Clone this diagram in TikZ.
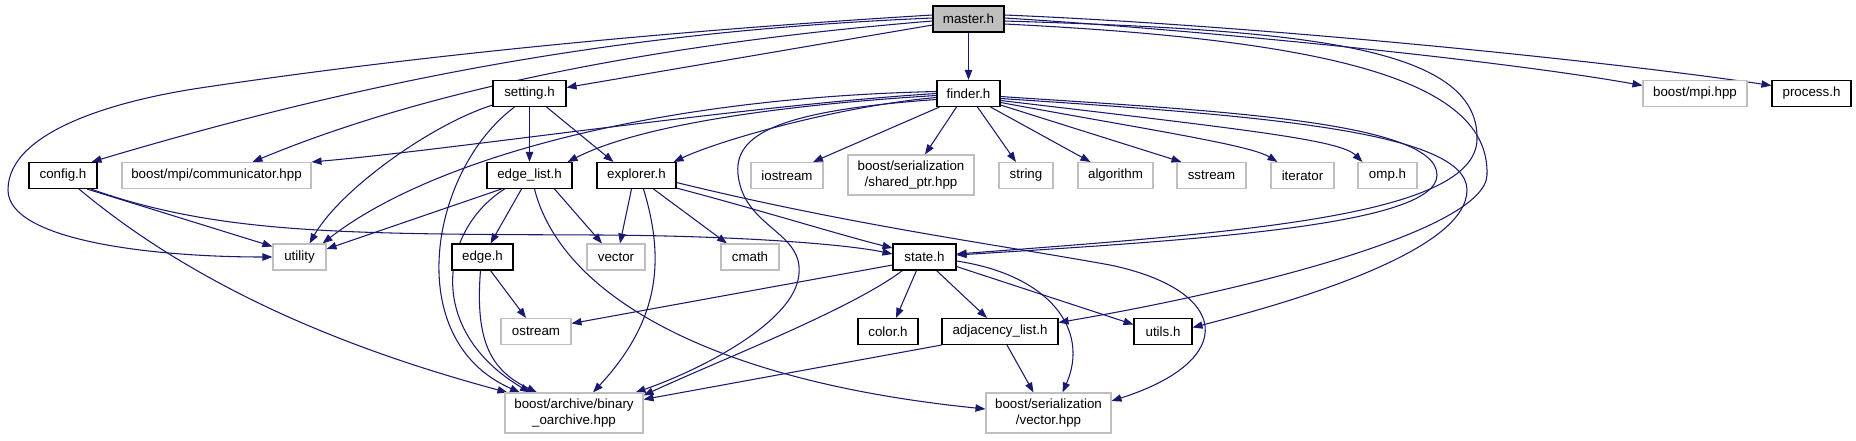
\documentclass[tikz,border=0pt]{standalone}
\usepackage{fontspec}
\setmainfont{Liberation Sans}
\usetikzlibrary{arrows.meta,calc}
\definecolor{edgec}{HTML}{191970}
\definecolor{graybd}{HTML}{BFBFBF}
\definecolor{mastfill}{HTML}{BFBFBF}
\pgfdeclarelayer{bg}
\pgfsetlayers{bg,main}
\begin{document}
\begin{tikzpicture}[x=0.75pt,y=-0.75pt,
  base/.style={rectangle,inner sep=0pt,font=\fontsize{10}{11.5}\selectfont,align=center,line width=0.8pt,minimum height=19.5pt,fill=white},
  proj/.style={base,draw=black},
  ext/.style={base,draw=graybd},
  tall/.style={minimum height=30pt},
  dep/.style={draw=edgec,line width=0.8pt,-{Triangle[length=7.5pt,width=5.5pt]}}
]
\useasboundingbox (0,0) rectangle (1856,440);

% nodes
\node[proj,fill=mastfill,minimum width=53.25pt] (master) at (968.5,19) {master.h};
\node[proj,minimum width=54.75pt] (setting) at (529.5,93.5) {setting.h};
\node[proj,minimum width=47.25pt] (finder) at (968.5,93.5) {finder.h};
\node[ext,minimum width=78pt] (boostmpi) at (1695,93.5) {boost/mpi.hpp};
\node[proj,minimum width=59.25pt] (process) at (1811.5,93.5) {process.h};
\node[proj,minimum width=51pt] (config) at (63,175.5) {config.h};
\node[ext,minimum width=141.75pt] (comm) at (216.5,175.5) {boost/mpi/communicator.hpp};
\node[proj,minimum width=63.75pt] (edgelist) at (529.5,175.5) {edge\_list.h};
\node[proj,minimum width=59.25pt] (explorer) at (636.5,175.5) {explorer.h};
\node[ext,minimum width=54pt] (iostream) at (787,175.5) {iostream};
\node[ext,tall,minimum width=94.5pt] (sharedptr) at (911,175) {boost/serialization\\/shared\_ptr.hpp};
\node[ext,minimum width=40.5pt] (string) at (1026,175.5) {string};
\node[ext,minimum width=56.25pt] (algorithm) at (1115.5,175.5) {algorithm};
\node[ext,minimum width=51.75pt] (sstream) at (1211.5,175.5) {sstream};
\node[ext,minimum width=47.25pt] (iterator) at (1302.5,175.5) {iterator};
\node[ext,minimum width=44.25pt] (omp) at (1387.5,175.5) {omp.h};
\node[ext,minimum width=39.75pt] (utility) at (299.5,257) {utility};
\node[proj,minimum width=45.75pt] (edge) at (482.5,257) {edge.h};
\node[ext,minimum width=43.5pt] (vector) at (616,257) {vector};
\node[ext,minimum width=43.5pt] (cmath) at (750,257) {cmath};
\node[proj,minimum width=47.25pt] (state) at (924.5,257) {state.h};
\node[ext,minimum width=52.5pt] (ostream) at (536,331.5) {ostream};
\node[proj,minimum width=45pt] (color) at (888,331.5) {color.h};
\node[proj,minimum width=87pt] (adj) at (1000,331.5) {adjacency\_list.h};
\node[proj,minimum width=43.5pt] (utils) at (1163,331.5) {utils.h};
\node[ext,tall,minimum width=103.5pt] (binary) at (574,413) {boost/archive/binary\\\_oarchive.hpp};
\node[ext,tall,minimum width=93.75pt] (svector) at (1048.5,413) {boost/serialization\\/vector.hpp};

\begin{pgfonlayer}{bg}
% master.h
\draw[dep] (master.south) -- (finder.north);
\draw[dep] ($(master.west)+(0,6)$) -- ($(setting.east)+(0,-6)$);
\draw[dep] ($(master.west)+(0,-1)$) .. controls (650,30) and (400,70) .. ($(config.north east)+(-6,0)$);
\draw[dep] ($(master.west)+(0,2)$) .. controls (700,40) and (450,80) .. ($(comm.north)+(36,0)$);
\draw[dep] ($(master.west)+(0,-4)$) .. controls (650,32) and (400,58) .. (200,88) .. controls (120,100) and (8,130) .. (8,190) .. controls (8,240) and (150,257) .. (utility.west);
\draw[dep] ($(master.east)+(0,-4)$) .. controls (1250,25) and (1600,60) .. ($(process.west)+(0,-8)$);
\draw[dep] ($(master.east)+(0,-1)$) .. controls (1200,30) and (1500,60) .. ($(boostmpi.west)+(0,-8)$);
\draw[dep] ($(master.east)+(0,2)$) .. controls (1300,30) and (1480,45) .. (1477,140) .. controls (1474,215) and (1250,232) .. ($(state.east)+(0,-3)$);
\draw[dep] ($(master.east)+(0,5)$) .. controls (1330,40) and (1490,80) .. (1487,175) .. controls (1485,230) and (1250,290) .. ($(adj.east)+(0,-9)$);

% finder.h
\draw[dep] ($(finder.east)+(0,3)$) .. controls (1200,110) and (1437,120) .. (1437,175) .. controls (1437,225) and (1200,240) .. ($(state.east)+(0,-2)$);
\draw[dep] ($(finder.east)+(0,5)$) .. controls (1250,115) and (1467,130) .. (1467,190) .. controls (1467,250) and (1300,300) .. ($(utils.east)+(0,-4)$);
\draw[dep] ($(finder.east)+(0,7)$) .. controls (1250,130) and (1340,140) .. ($(omp.north)+(-25,0)$);
\draw[dep] ($(finder.east)+(0,9)$) .. controls (1150,130) and (1250,145) .. ($(iterator.north)+(-25,0)$);
\draw[dep] ($(finder.south east)+(0,-2)$) -- ($(sstream.north)+(-30,0)$);
\draw[dep] ($(finder.south)+(22,0)$) -- ($(algorithm.north)+(-25,0)$);
\draw[dep] ($(finder.south)+(9,0)$) -- ($(string.north)+(-10,0)$);
\draw[dep] ($(finder.south)+(-12,0)$) -- ($(sharedptr.north)+(14,0)$);
\draw[dep] ($(finder.south west)+(3,0)$) -- ($(iostream.north)+(26,0)$);
\draw[dep] ($(finder.west)+(0,4)$) .. controls (840,106) and (720,140) .. ($(explorer.north east)+(-3,0)$);
\draw[dep] ($(finder.west)+(0,2)$) .. controls (780,105) and (640,125) .. ($(edgelist.north east)+(-5,0)$);
\draw[dep] (finder.west) .. controls (750,105) and (450,150) .. (comm.north east);
\draw[dep] ($(finder.west)+(0,-2)$) .. controls (650,98) and (430,160) .. ($(utility.north east)+(-4,0)$);
\draw[dep] ($(finder.west)+(0,6)$) .. controls (760,112) and (728,140) .. (740,185) .. controls (752,230) and (808,235) .. (798,280) .. controls (788,325) and (700,370) .. ($(binary.north east)+(-8,0)$);

% setting.h
\draw[dep] (setting.south) -- (edgelist.north);
\draw[dep] ($(setting.south east)+(-20,0)$) -- ($(explorer.north)+(-23,0)$);
\draw[dep] ($(setting.south west)+(0,-2)$) .. controls (430,125) and (340,190) .. ($(utility.north)+(10,0)$);
\draw[dep] ($(setting.south)+(-15,0)$) .. controls (430,170) and (400,340) .. ($(binary.north)+(-54,0)$);

% config.h
\draw[dep] ($(config.south)+(16,0)$) .. controls (200,290) and (350,350) .. ($(binary.north west)+(3,0)$);
\draw[dep] ($(config.south)+(24,0)$) -- ($(utility.north west)+(0,3)$);
\draw[dep] ($(config.south)+(28,0)$) .. controls (220,235) and (350,234) .. (600,235) .. controls (750,236) and (850,245) .. ($(state.west)+(0,-3)$);

% edge_list.h
\draw[dep] ($(edgelist.south west)+(15,0)$) -- ($(utility.east)+(0,-8)$);
\draw[dep] ($(edgelist.south)+(-8,0)$) -- ($(edge.north)+(8,0)$);
\draw[dep] ($(edgelist.south east)+(-18,0)$) -- ($(vector.north)+(-14,0)$);
\draw[dep] ($(edgelist.south)+(-25,0)$) .. controls (440,230) and (425,330) .. ($(binary.north)+(-44,0)$);
\draw[dep] ($(edgelist.south)+(5,0)$) .. controls (560,290) and (700,380) .. ($(svector.west)+(0,-4)$);

% explorer.h
\draw[dep] ($(explorer.south)+(-5,0)$) -- ($(vector.north)+(4,0)$);
\draw[dep] ($(explorer.south)+(17,0)$) -- ($(cmath.north)+(-23,0)$);
\draw[dep] ($(explorer.south east)+(0,-1)$) .. controls (760,210) and (840,235) .. ($(state.west)+(0,-9)$);
\draw[dep] ($(explorer.south)+(7,0)$) .. controls (665,260) and (660,320) .. ($(binary.north)+(19,0)$);
\draw[dep] ($(explorer.east)+(0,7)$) .. controls (850,225) and (1000,245) .. (1110,265) .. controls (1230,290) and (1240,360) .. ($(svector.east)+(0,-12)$);

% state.h
\draw[dep] ($(state.west)+(0,8)$) -- ($(ostream.east)+(0,-8)$);
\draw[dep] ($(state.south)+(-8,0)$) -- ($(color.north)+(8,0)$);
\draw[dep] ($(state.south)+(12,0)$) -- ($(adj.north)+(-13,0)$);
\draw[dep] ($(state.south east)+(0,-4)$) -- ($(utils.west)+(0,-7)$);
\draw[dep] ($(state.east)+(0,4)$) .. controls (1050,275) and (1090,330) .. ($(svector.north)+(14,0)$);
\draw[dep] ($(state.south west)+(10,0)$) .. controls (850,310) and (720,360) .. ($(binary.north east)+(0,3)$);

% adjacency_list.h
\draw[dep] (adj.south west) -- ($(binary.north east)+(0,7)$);
\draw[dep] ($(adj.south)+(7,0)$) -- ($(svector.north)+(-15,0)$);

% edge.h
\draw[dep] ($(edge.south)+(8,0)$) -- ($(ostream.north)+(-10,0)$);
\draw[dep] ($(edge.south)+(-2,0)$) .. controls (475,340) and (490,370) .. ($(binary.north)+(-37,0)$);
\end{pgfonlayer}
\end{tikzpicture}
\end{document}
